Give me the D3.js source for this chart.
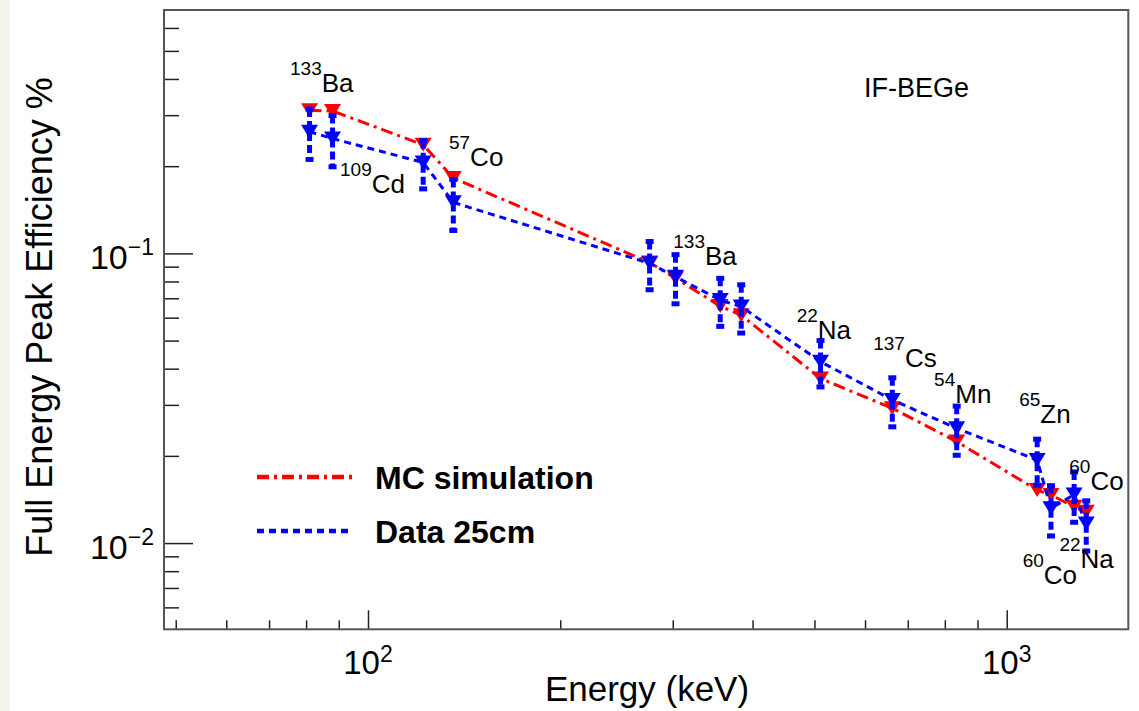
<!DOCTYPE html>
<html>
<head>
<meta charset="utf-8">
<script src="https://cdn.jsdelivr.net/npm/d3@7"></script>
<style>
body { margin: 0; background: #fff; }
svg { display: block; font-family: "Liberation Sans", Arial, Helvetica, sans-serif; }
</style>
</head>
<body>
<svg width="1139" height="711"></svg>
<script>
// gamma line energies (keV)
var energies = [81, 88, 122, 136, 276, 303, 356, 384, 511, 662, 835, 1116, 1173, 1275, 1332];
// full energy peak efficiency (%)
var mcEff = [0.312, 0.310, 0.237, 0.182, 0.093, 0.082, 0.0658, 0.0612, 0.0370, 0.0292, 0.0224, 0.01524, 0.01466, 0.01334, 0.01282];
var dataEff = [0.263, 0.249, 0.206, 0.150, 0.0924, 0.0830, 0.0690, 0.0655, 0.0423, 0.0312, 0.0249, 0.01934, 0.01318, 0.0147, 0.01169];
var dataErr = [0.052, 0.050, 0.039, 0.030, 0.0175, 0.016, 0.013, 0.0124, 0.0077, 0.006, 0.0048, 0.0035, 0.0026, 0.0029, 0.0023];

// isotope annotations, anchored in data coordinates
var isoMass = ["133", "109", "57", "133", "22", "137", "54", "65", "60", "60", "22"];
var isoName = ["Ba", "Cd", "Co", "Ba", "Na", "Cs", "Mn", "Zn", "Co", "Co", "Na"];
var isoE = [75.5, 90.4, 133.9, 300.6, 469, 618, 769.6, 1046, 1253, 1059, 1209];
var isoEff = [0.361, 0.161, 0.201, 0.0911, 0.0505, 0.0406, 0.0304, 0.0260, 0.01524, 0.00722, 0.00818];

// axis ticks
var xMajor = [100, 1000];
var xMajorExp = ["2", "3"];
var xMinor = [50, 60, 70, 80, 90, 200, 300, 400, 500, 600, 700, 800, 900];
var yMajor = [0.01, 0.1];
var yMajorExp = ["\u22122", "\u22121"];
var yMinor = [0.006, 0.007, 0.008, 0.009, 0.02, 0.03, 0.04, 0.05, 0.06, 0.07, 0.08, 0.09, 0.2, 0.3, 0.4, 0.5, 0.6];

var seriesNames = ["MC simulation", "Data 25cm"];

var svg = d3.select("svg"),
  margin = {top: 10, right: 10.7, bottom: 81.7, left: 164},
  width = +svg.attr("width") - margin.left - margin.right,
  height = +svg.attr("height") - margin.top - margin.bottom;

// slight tint strip on the left edge of the slide
svg.append("rect").attr("x", 0).attr("y", 0).attr("width", 10).attr("height", 711).attr("fill", "#f3f5ec");

var g = svg.append("g").attr("transform", "translate(" + margin.left + "," + margin.top + ")");

var x = d3.scaleLog().domain([47.93, 1550]).range([0, width]);
var y = d3.scaleLog().domain([0.00504, 0.692]).range([height, 0]);

function ticks(axis, vals, size) {
  var a = g.append("g")
    .attr("color", "#222")
    .call(axis.tickValues(vals).tickSize(size).tickSizeOuter(0).tickFormat(""));
  a.select(".domain").remove();
  a.selectAll("line").attr("stroke-width", 1.5);
  return a;
}

ticks(d3.axisBottom(x), xMinor, -9).attr("transform", "translate(0," + height + ")");
ticks(d3.axisBottom(x), xMajor, -19).attr("transform", "translate(0," + height + ")");
ticks(d3.axisLeft(y), yMinor, -15);
ticks(d3.axisLeft(y), yMajor, -29);

// tick labels 10^n
xMajor.forEach(function(v, i) {
  var t = g.append("text")
    .attr("x", x(v))
    .attr("y", height + 45)
    .attr("text-anchor", "middle")
    .attr("font-size", 33)
    .attr("fill", "#000");
  t.append("tspan").text("10");
  t.append("tspan").attr("font-size", 23).attr("dy", -12).text(xMajorExp[i]);
});

yMajor.forEach(function(v, i) {
  var t = g.append("text")
    .attr("x", -10)
    .attr("y", y(v) + 16)
    .attr("text-anchor", "end")
    .attr("font-size", 34)
    .attr("fill", "#000");
  t.append("tspan").text("10");
  t.append("tspan").attr("font-size", 23).attr("dy", -14).text(yMajorExp[i]);
});

// axis titles
svg.append("text")
  .attr("x", 647)
  .attr("y", 701)
  .attr("text-anchor", "middle")
  .attr("font-size", 35)
  .text("Energy (keV)");

svg.append("text")
  .attr("transform", "translate(52,317) rotate(-90)")
  .attr("text-anchor", "middle")
  .attr("font-size", 36)
  .text("Full Energy Peak Efficiency %");

var points = energies.map(function(e, i) {
  return {e: e, mc: mcEff[i], d: dataEff[i], err: dataErr[i]};
});

// ROOT-like full triangle down marker
var triDown = {
  draw: function(ctx) {
    ctx.moveTo(-8.5, -7);
    ctx.lineTo(8.5, -7);
    ctx.lineTo(0, 7);
    ctx.closePath();
  }
};
var tri = d3.symbol().type(triDown);

// MC simulation
g.append("path")
  .datum(points)
  .attr("fill", "none")
  .attr("stroke", "#ff0000")
  .attr("stroke-width", 3)
  .attr("stroke-dasharray", "12,5,3,5")
  .attr("d", d3.line().x(function(d) { return x(d.e); }).y(function(d) { return y(d.mc); }));

g.selectAll(".mcpt")
  .data(points)
  .enter().append("path")
  .attr("class", "mcpt")
  .attr("fill", "#ff0000")
  .attr("d", tri)
  .attr("transform", function(d) { return "translate(" + x(d.e) + "," + y(d.mc) + ")"; });

// Data 25cm
g.append("path")
  .datum(points)
  .attr("fill", "none")
  .attr("stroke", "#0000ff")
  .attr("stroke-width", 3)
  .attr("stroke-dasharray", "7,5")
  .attr("d", d3.line().x(function(d) { return x(d.e); }).y(function(d) { return y(d.d); }));

var eb = g.selectAll(".err").data(points).enter().append("g").attr("class", "err");
eb.append("line")
  .attr("x1", function(d) { return x(d.e); })
  .attr("x2", function(d) { return x(d.e); })
  .attr("y1", function(d) { return y(d.d + d.err); })
  .attr("y2", function(d) { return y(d.d - d.err); })
  .attr("stroke", "#0000ff")
  .attr("stroke-width", 5)
  .attr("stroke-dasharray", "8,4");
[1, -1].forEach(function(s) {
  eb.append("line")
    .attr("x1", function(d) { return x(d.e) - 4; })
    .attr("x2", function(d) { return x(d.e) + 4; })
    .attr("y1", function(d) { return y(d.d + s * d.err); })
    .attr("y2", function(d) { return y(d.d + s * d.err); })
    .attr("stroke", "#0000ff")
    .attr("stroke-width", 5);
});

g.selectAll(".dpt")
  .data(points)
  .enter().append("path")
  .attr("class", "dpt")
  .attr("fill", "#0000ff")
  .attr("d", tri)
  .attr("transform", function(d) { return "translate(" + x(d.e) + "," + y(d.d) + ")"; });

// isotope labels
isoName.forEach(function(n, i) {
  var t = g.append("text")
    .attr("x", x(isoE[i]))
    .attr("y", y(isoEff[i]))
    .attr("font-size", 26)
    .attr("fill", "#000");
  t.append("tspan").attr("font-size", 19).attr("dy", -17).text(isoMass[i]);
  t.append("tspan").attr("dy", 17).text(n);
});

svg.append("text")
  .attr("x", 864)
  .attr("y", 96.7)
  .attr("font-size", 27)
  .text("IF-BEGe");

// legend
var leg = svg.append("g");
var legStyle = [{c: "#ff0000", dash: "12,5,3,5"}, {c: "#0000ff", dash: "7,5"}];
seriesNames.forEach(function(name, i) {
  var yy = 477 + i * 54;
  leg.append("line")
    .attr("x1", 257).attr("x2", 353)
    .attr("y1", yy).attr("y2", yy)
    .attr("stroke", legStyle[i].c)
    .attr("stroke-width", 4.5)
    .attr("stroke-dasharray", legStyle[i].dash);
  leg.append("text")
    .attr("x", 375)
    .attr("y", yy + 11.5)
    .attr("font-size", 32)
    .attr("font-weight", "bold")
    .text(name);
});

// frame
g.append("rect")
  .attr("width", width)
  .attr("height", height)
  .attr("fill", "none")
  .attr("stroke", "#555")
  .attr("stroke-width", 2);
</script>
</body>
</html>
